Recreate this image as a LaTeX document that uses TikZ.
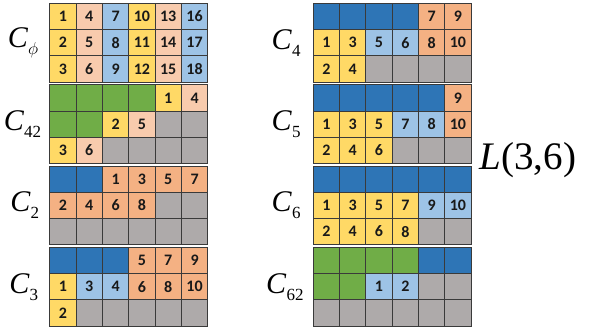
\documentclass[tikz,border=0pt]{standalone}
\usepackage{fontspec}
\setmainfont{Liberation Serif}
\newfontfamily\cellfont{Carlito}
\usepackage{xcolor}
\usetikzlibrary{positioning}
\definecolor{cy}{HTML}{FFD966}
\definecolor{cp}{HTML}{F8CBAD}
\definecolor{cb}{HTML}{9DC3E6}
\definecolor{cd}{HTML}{2E75B6}
\definecolor{co}{HTML}{F4B183}
\definecolor{cg}{HTML}{70AD47}
\definecolor{cz}{HTML}{AEAAAA}
\definecolor{gridline}{HTML}{3A3A3A}
% one row of six cells: name, left x, top y, colour/text list
\newcommand{\gridrow}[4]{%
  \foreach [count=\i from 0] \c/\t in {#4}
    \node[cell,fill=\c] (#1-\i) at ({#2+\i*26.33},#3) {\t};%
}
\newcommand{\glabel}[2]{%
  {\fontsize{30}{30}\selectfont\textit{C}}\raisebox{-7pt}{\fontsize{17}{17}\selectfont #2}}

\begin{document}
\begin{tikzpicture}[x=1pt,y=-1pt,
    cell/.style={draw=gridline,line width=0.9pt,anchor=north west,inner sep=0pt,
                 minimum width=26.33pt,minimum height=26.2pt,
                 font=\cellfont\bfseries\fontsize{16}{16}\selectfont,text=black!90},
    glab/.style={anchor=east,inner sep=0pt}]
  \useasboundingbox[fill=white] (0,0) rectangle (591,332);

  % left column
  \gridrow{phiA}{49.3}{3}{cy/1,cp/4,cb/7,cy/10,cp/13,cb/16}
  \gridrow{phiB}{49.3}{29.2}{cy/2,cp/5,cb/8,cy/11,cp/14,cb/17}
  \gridrow{phiC}{49.3}{55.4}{cy/3,cp/6,cb/9,cy/12,cp/15,cb/18}

  \gridrow{ffA}{49.3}{84.3}{cg/{},cg/{},cg/{},cg/{},cy/1,cp/4}
  \gridrow{ffB}{49.3}{110.5}{cg/{},cg/{},cy/2,cp/5,cz/{},cz/{}}
  \gridrow{ffC}{49.3}{136.7}{cy/3,cp/6,cz/{},cz/{},cz/{},cz/{}}

  \gridrow{twA}{49.3}{165.6}{cd/{},cd/{},co/1,co/3,co/5,co/7}
  \gridrow{twB}{49.3}{191.8}{co/2,co/4,co/6,co/8,cz/{},cz/{}}
  \gridrow{twC}{49.3}{218}{cz/{},cz/{},cz/{},cz/{},cz/{},cz/{}}

  \gridrow{thA}{49.3}{246.9}{cd/{},cd/{},cd/{},co/5,co/7,co/9}
  \gridrow{thB}{49.3}{273.1}{cy/1,cb/3,cb/4,co/6,co/8,co/10}
  \gridrow{thC}{49.3}{299.3}{cy/2,cz/{},cz/{},cz/{},cz/{},cz/{}}

  % right column
  \gridrow{foA}{312.7}{3}{cd/{},cd/{},cd/{},cd/{},co/7,co/9}
  \gridrow{foB}{312.7}{29.2}{cy/1,cy/3,cb/5,cb/6,co/8,co/10}
  \gridrow{foC}{312.7}{55.4}{cy/2,cy/4,cz/{},cz/{},cz/{},cz/{}}

  \gridrow{fiA}{312.7}{84.3}{cd/{},cd/{},cd/{},cd/{},cd/{},co/9}
  \gridrow{fiB}{312.7}{110.5}{cy/1,cy/3,cy/5,cb/7,cb/8,co/10}
  \gridrow{fiC}{312.7}{136.7}{cy/2,cy/4,cy/6,cz/{},cz/{},cz/{}}

  \gridrow{siA}{312.7}{165.6}{cd/{},cd/{},cd/{},cd/{},cd/{},cd/{}}
  \gridrow{siB}{312.7}{191.8}{cy/1,cy/3,cy/5,cy/7,cb/9,cb/10}
  \gridrow{siC}{312.7}{218}{cy/2,cy/4,cy/6,cy/8,cz/{},cz/{}}

  \gridrow{stA}{312.7}{246.9}{cg/{},cg/{},cg/{},cg/{},cd/{},cd/{}}
  \gridrow{stB}{312.7}{273.1}{cg/{},cg/{},cb/1,cb/2,cz/{},cz/{}}
  \gridrow{stC}{312.7}{299.3}{cz/{},cz/{},cz/{},cz/{},cz/{},cz/{}}

  % labels
  \node[glab,left=11pt of phiB-0] (lphi) {\glabel{}{$\phi$}};
  \node[glab,left=8pt of ffB-0] (lff) {\glabel{}{42}};
  \node[glab,left=10pt of twB-0] (ltw) {\glabel{}{2}};
  \node[glab,left=11pt of thB-0] (lth) {\glabel{}{3}};
  \node[glab,left=12pt of foB-0] (lfo) {\glabel{}{4}};
  \node[glab,left=12pt of fiB-0] (lfi) {\glabel{}{5}};
  \node[glab,left=12pt of siB-0] (lsi) {\glabel{}{6}};
  \node[glab,left=9pt of stB-0] (lst) {\glabel{}{62}};

  \node[inner sep=0pt] (lname) at (528,160)
    {\fontsize{39}{39}\selectfont\textit{L}(3,6)};
\end{tikzpicture}
\end{document}
